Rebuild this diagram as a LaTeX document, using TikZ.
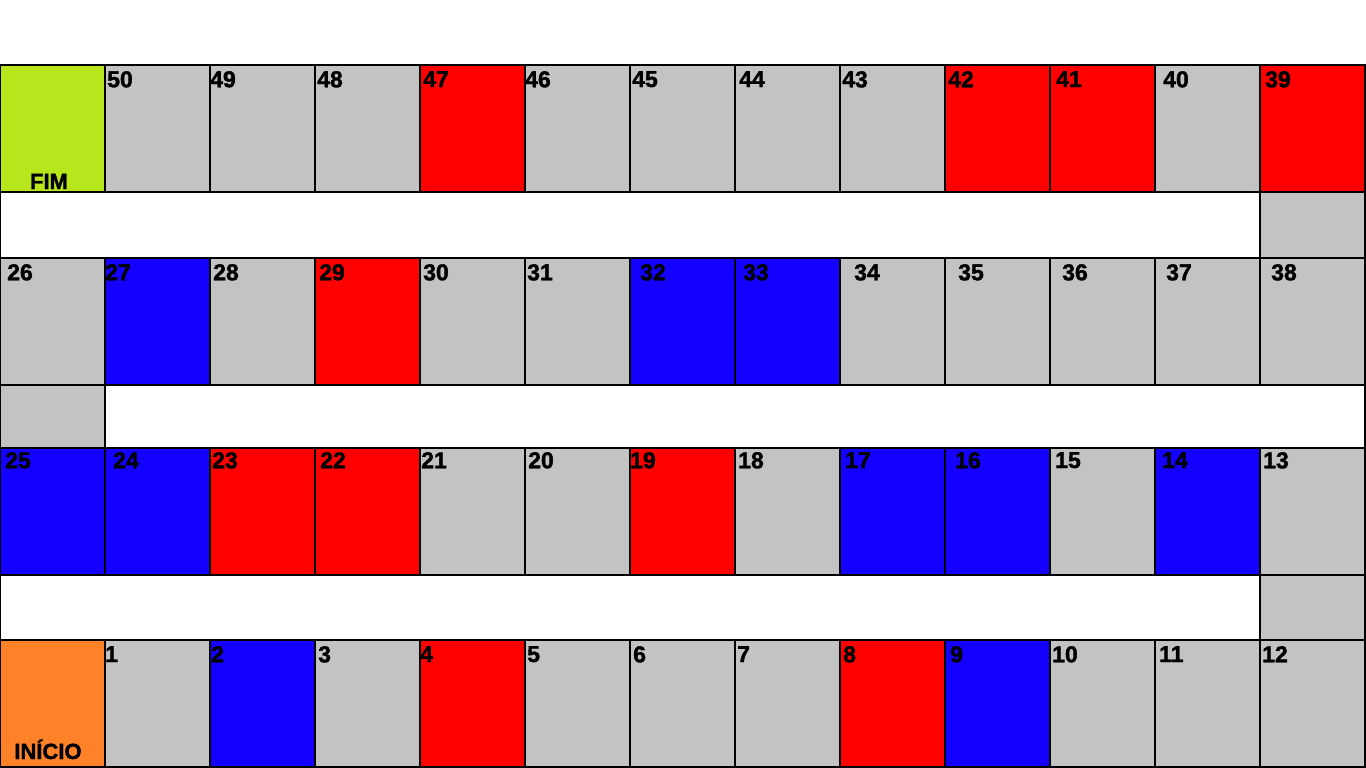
\documentclass[tikz,border=0pt]{standalone}
\usepackage{fontspec}
\setmainfont{Liberation Sans}
\newfontfamily\grossa{Liberation Sans Bold}[FakeBold=1.6]
\usepackage{xcolor}
\definecolor{cinza}{HTML}{C3C3C3}
\definecolor{vermelho}{HTML}{FF0000}
\definecolor{azul}{HTML}{1400FF}
\definecolor{verde}{HTML}{B7E61D}
\definecolor{laranja}{HTML}{FF8229}
\tikzset{
  casa/.style={draw=black, line width=1.2pt},
  num/.style={anchor=north west, inner sep=0pt, font=\fontsize{23}{23}\selectfont\grossa},
  fim/.style={anchor=base, inner sep=0pt, font=\fontsize{22}{22}\selectfont\grossa},
}

\begin{document}
\begin{tikzpicture}[x=1pt, y=-1pt]
    \useasboundingbox (0,0) rectangle (1366,768);

    % fileira de cima: FIM, 50 ... 39
    \draw[casa, fill=verde] (0,65) rectangle (105,192);
    \node[fim] (fim) at (49,189) {FIM};
    \foreach \c/\n/\cor/\dx in {1/50/cinza/2, 2/49/cinza/0, 3/48/cinza/2, 4/47/vermelho/3,
        5/46/cinza/0, 6/45/cinza/2, 7/44/cinza/4, 8/43/cinza/2, 9/42/vermelho/3,
        10/41/vermelho/6, 11/40/cinza/8, 12/39/vermelho/5} {
      \draw[casa, fill=\cor] ({105*\c},65) rectangle ++(105,127);
      \node[num] (n\n) at ({105*\c+\dx},71) {\n};
    }

    \draw[casa, fill=white] (0,192) rectangle (1260,258);
    \draw[casa, fill=cinza] (1260,192) rectangle (1365,258);

    % segunda fileira: 26 ... 38
    \foreach \c/\n/\cor/\dx in {0/26/cinza/7, 1/27/azul/0, 2/28/cinza/3, 3/29/vermelho/4,
        4/30/cinza/3, 5/31/cinza/2, 6/32/azul/10, 7/33/azul/8, 8/34/cinza/14,
        9/35/cinza/13, 10/36/cinza/12, 11/37/cinza/11, 12/38/cinza/11} {
      \draw[casa, fill=\cor] ({105*\c},258) rectangle ++(105,127);
      \node[num] (n\n) at ({105*\c+\dx},264) {\n};
    }

    \draw[casa, fill=cinza] (0,385) rectangle (105,448);
    \draw[casa, fill=white] (105,385) rectangle (1365,448);

    % terceira fileira: 25 ... 13
    \foreach \c/\n/\cor/\dx in {0/25/azul/5, 1/24/azul/8, 2/23/vermelho/2, 3/22/vermelho/5,
        4/21/cinza/1, 5/20/cinza/3, 6/19/vermelho/0, 7/18/cinza/3, 8/17/azul/5,
        9/16/azul/10, 10/15/cinza/5, 11/14/azul/7, 12/13/cinza/3} {
      \draw[casa, fill=\cor] ({105*\c},448) rectangle ++(105,127);
      \node[num] (n\n) at ({105*\c+\dx},452) {\n};
    }

    \draw[casa, fill=white] (0,575) rectangle (1260,640);
    \draw[casa, fill=cinza] (1260,575) rectangle (1365,640);

    % fileira de baixo: INICIO, 1 ... 12
    \draw[casa, fill=laranja] (0,640) rectangle (105,767);
    \node[fim] (inicio) at (48,759) {INÍCIO};
    \foreach \c/\cor/\dx in {1/cinza/0, 2/azul/1, 3/cinza/3, 4/vermelho/0, 5/cinza/2,
        6/cinza/3, 7/cinza/2, 8/vermelho/3, 9/azul/5, 10/cinza/2, 11/cinza/4, 12/cinza/2} {
      \draw[casa, fill=\cor] ({105*\c},640) rectangle ++(105,127);
      \node[num] (n\c) at ({105*\c+\dx},646) {\c};
    }

\end{tikzpicture}
\end{document}
